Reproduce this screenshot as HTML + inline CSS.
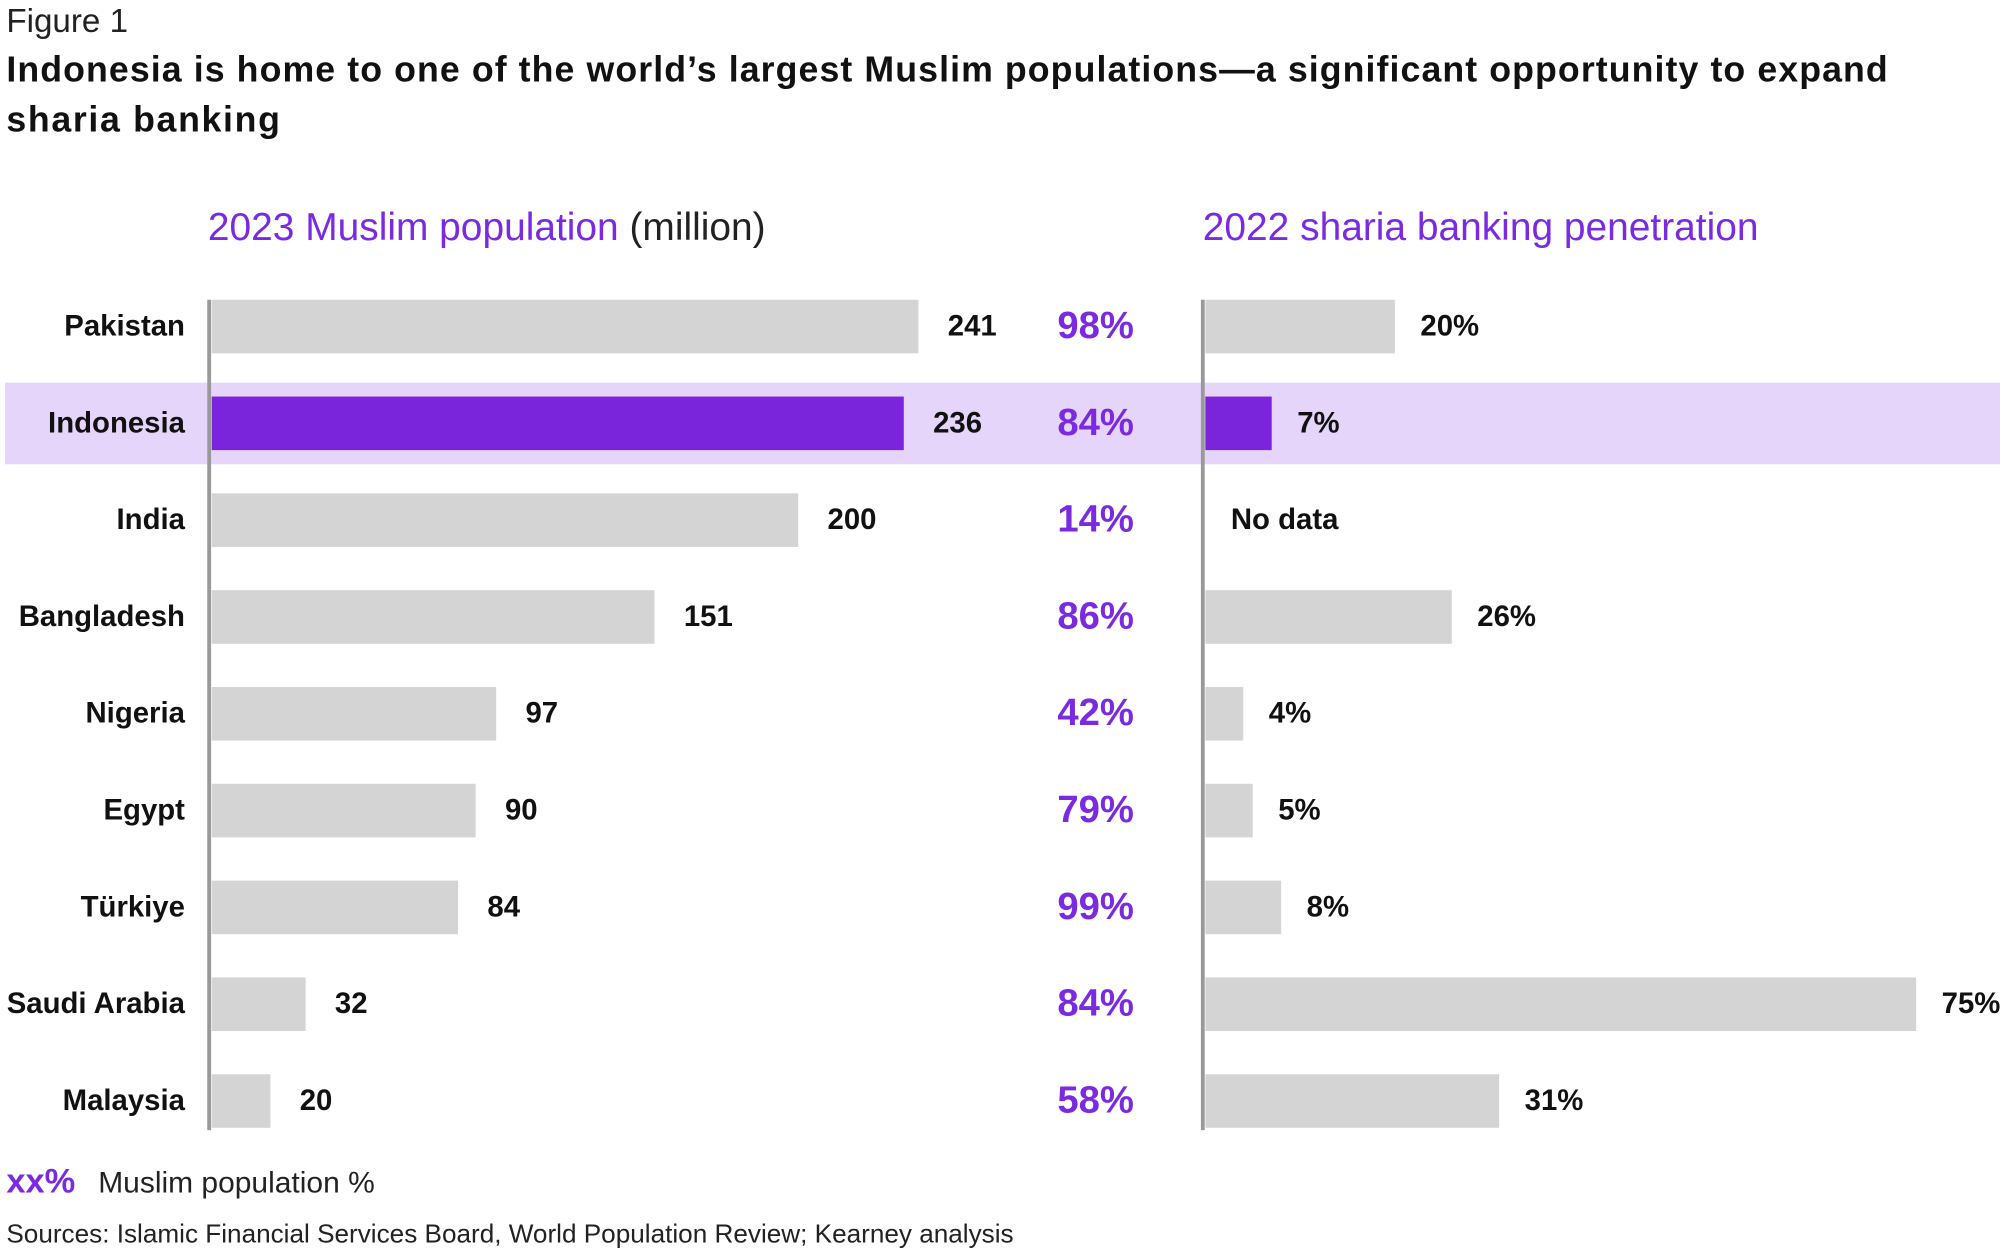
<!DOCTYPE html>
<html><head><meta charset="utf-8"><style>
html,body{margin:0;padding:0;background:#fff;}
svg{display:block;font-family:"Liberation Sans",sans-serif;}
</style></head><body>
<svg id="chart" width="2000" height="1250" viewBox="0 0 1568 980" xmlns="http://www.w3.org/2000/svg">
<text x="5" y="25" font-size="26" fill="#222">Figure 1</text>
<text x="5" y="64" font-size="28" font-weight="bold" fill="#111" textLength="1475" lengthAdjust="spacing">Indonesia is home to one of the world’s largest Muslim populations—a significant opportunity to expand</text>
<text x="5" y="103" font-size="28" font-weight="bold" fill="#111" letter-spacing="1.3">sharia banking</text>
<text x="163" y="188" font-size="30.5" fill="#7a2ae0">2023 Muslim population <tspan fill="#222">(million)</tspan></text>
<text x="943" y="188" font-size="30.5" fill="#7a2ae0">2022 sharia banking penetration</text>
<rect x="4" y="300" width="1564" height="64" fill="#e6d5fa"/>
<g id="bars"></g>
<line x1="164" y1="235" x2="164" y2="886" stroke="#999" stroke-width="3"/>
<line x1="943" y1="235" x2="943" y2="886" stroke="#999" stroke-width="3"/>
<text x="5" y="935" font-size="27" font-weight="bold" fill="#7a2ae0">xx%</text>
<text x="77" y="935" font-size="23.5" fill="#222">Muslim population %</text>
<text x="5" y="974" font-size="20.5" fill="#222">Sources: Islamic Financial Services Board, World Population Review; Kearney analysis</text>
</svg>
<script>
const countries = ["Pakistan","Indonesia","India","Bangladesh","Nigeria","Egypt","Türkiye","Saudi Arabia","Malaysia"];
const population = [241,236,200,151,97,90,84,32,20];
const muslimShare = ["98%","84%","14%","86%","42%","79%","99%","84%","58%"];
const penetration = [20,7,null,26,4,5,8,75,31];
const highlight = "Indonesia";

const NS = "http://www.w3.org/2000/svg";
const g = document.getElementById("bars");
const rowY = i => 256 + i * 75.9;
const popX = v => 166 + v * 2.299;
const penX = v => 945 + v * 7.43;
const barH = 42;
function mk(tag, attrs, text){
  const e = document.createElementNS(NS, tag);
  for (const k in attrs) e.setAttribute(k, attrs[k]);
  if (text !== undefined) e.textContent = text;
  g.appendChild(e);
  return e;
}
countries.forEach((c, i) => {
  const y = rowY(i);
  const hi = c === highlight;
  const col = hi ? "#7a24dc" : "#d4d4d4";
  let e = mk("text", {x:145, y:y+7, "font-size":23, "font-weight":"bold", "text-anchor":"end", fill:"#111"}, c);
  
  
  e = mk("rect", {x:166, y:y-barH/2, width:popX(population[i])-166, height:barH, fill:col});
  
  
  e = mk("text", {x:popX(population[i])+23, y:y+7, "font-size":23, "font-weight":"bold", fill:"#111"}, String(population[i]));
  
  
  e = mk("text", {x:829, y:y+9, "font-size":30, "font-weight":"bold", fill:"#7a2ae0"}, muslimShare[i]);
  
  
  if (penetration[i] === null) {
    e = mk("text", {x:965, y:y+7, "font-size":23, "font-weight":"bold", fill:"#111"}, "No data");
    
    
  } else {
    e = mk("rect", {x:945, y:y-barH/2, width:penX(penetration[i])-945, height:barH, fill:col});
    
    
    e = mk("text", {x:penX(penetration[i])+20, y:y+7, "font-size":23, "font-weight":"bold", fill:"#111"}, penetration[i] + "%");
    
    
  }
});
</script>
</body></html>
